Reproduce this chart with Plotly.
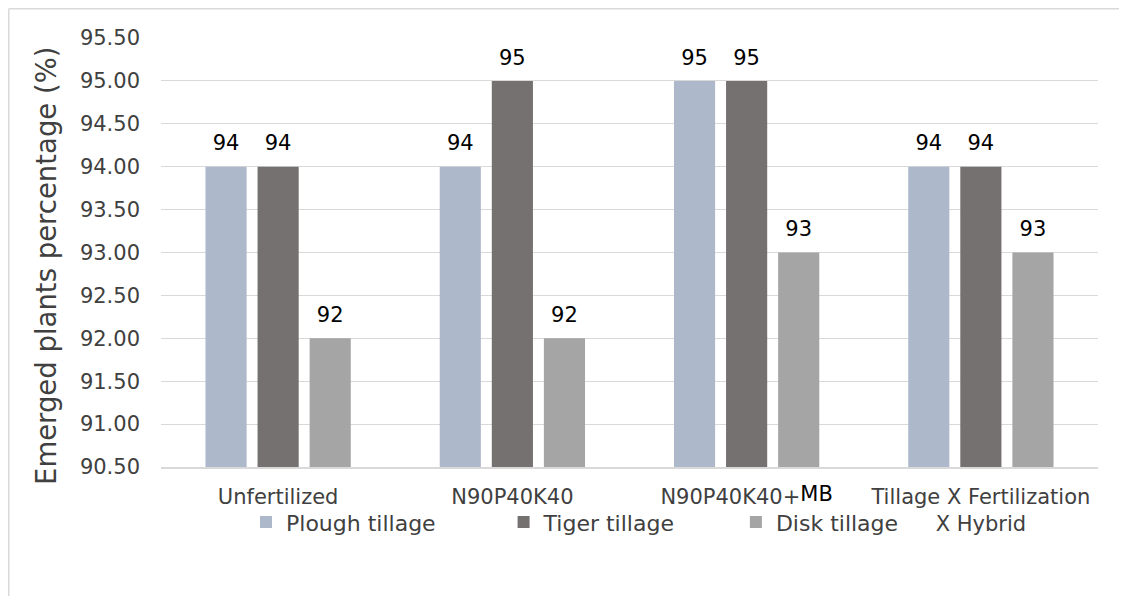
import plotly.graph_objects as go

categories = ["Unfertilized", "N90P40K40",
              "N90P40K40+<span style='color:#000000;baseline-shift:3px'>MB</span>",
              "Tillage X Fertilization<br>X Hybrid"]
series_names = ["Plough tillage", "Tiger tillage", "Disk tillage"]
plough = [94, 94, 95, 94]
tiger = [94, 95, 95, 94]
disk = [92, 92, 93, 93]
colors = ["#ADB9CA", "#767171", "#A5A5A5"]
y_title = "Emerged plants percentage (%)"

FONT = "DejaVu Sans"
PADS = ["&nbsp;" * 9, "&nbsp;" * 8, ""]
fig = go.Figure()
for i, (name, vals, col) in enumerate(zip(series_names, [plough, tiger, disk], colors)):
    fig.add_trace(go.Bar(
        x=categories, y=vals, name=name + PADS[i], marker_color=col, marker_line_width=0,
        offsetgroup=str(i), alignmentgroup="a", hoverinfo="x+y",
    ))
for i, vals in enumerate([plough, tiger, disk]):
    fig.add_trace(go.Scatter(
        x=categories, y=vals, mode="markers+text", text=[str(v) for v in vals],
        marker=dict(size=16, color="rgba(0,0,0,0)"),
        textposition="top center", showlegend=False, hoverinfo="skip",
        textfont=dict(family=FONT, size=21, color="#000000"),
        offsetgroup=str(i), alignmentgroup="a", cliponaxis=False,
    ))

fig.update_layout(
    width=1119, height=588,
    margin=dict(l=153, r=29, t=30, b=129),
    paper_bgcolor="white", plot_bgcolor="white",
    barmode="group", bargap=0.333, bargroupgap=0.21,
    scattermode="group", scattergap=0.333,
    font=dict(family=FONT, color="#404040", size=21),
    showlegend=True,
    legend=dict(orientation="h", x=(246 - 161) / 937, xanchor="left", y=-0.08, yanchor="top",
                bgcolor="rgba(0,0,0,0)",
                font=dict(family=FONT, size=22, color="#404040"),
                traceorder="normal"),
    yaxis=dict(range=[90.5, 95.5], dtick=0.5, tickformat=".2f",
               showgrid=True, gridcolor="#D9D9D9", gridwidth=1,
               zeroline=False, showline=False, ticks="", ticklabelstandoff=20,
               tickfont=dict(family=FONT, size=21, color="#404040")),
    xaxis=dict(showline=True, linecolor="#D9D9D9", linewidth=1.5, ticks="",
               ticklabelstandoff=10,
               tickfont=dict(family=FONT, size=21, color="#404040")),
)
fig.add_annotation(text=y_title, textangle=-90, xref="paper", yref="paper",
                   x=(46 - 161) / 937, y=(467 - 266) / 429, xanchor="center", yanchor="middle",
                   showarrow=False, font=dict(family=FONT, size=27.5, color="#404040"))
fig.add_shape(type="line", xref="paper", yref="paper", x0=-0.1625, y0=1.0682, x1=1.1, y1=1.0682,
              line=dict(color="#D9D9D9", width=1.5))
fig.add_shape(type="line", xref="paper", yref="paper", x0=-0.1625, y0=-0.4, x1=-0.1625, y1=1.0682,
              line=dict(color="#D9D9D9", width=1.5))
fig.write_html("out.html")
